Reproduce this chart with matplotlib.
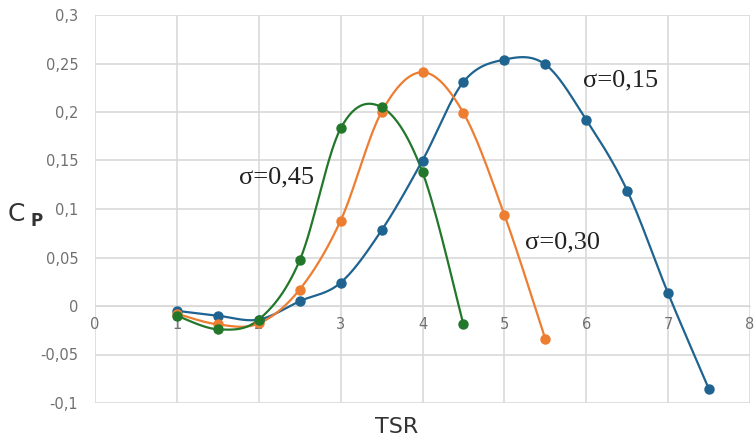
import numpy as np
import matplotlib
matplotlib.use('Agg')
import matplotlib.pyplot as plt
import matplotlib.ticker as ticker

# TSR values and Cp for each solidity
tsr_015 = [1, 1.5, 2, 2.5, 3, 3.5, 4, 4.5, 5, 5.5, 6, 6.5, 7, 7.5]
cp_015 = [-0.005, -0.010, -0.014, 0.005, 0.024, 0.078, 0.150, 0.231, 0.254, 0.249, 0.192, 0.119, 0.013, -0.086]

tsr_030 = [1, 1.5, 2, 2.5, 3, 3.5, 4, 4.5, 5, 5.5]
cp_030 = [-0.008, -0.019, -0.018, 0.017, 0.088, 0.200, 0.241, 0.199, 0.094, -0.034]

tsr_045 = [1, 1.5, 2, 2.5, 3, 3.5, 4, 4.5]
cp_045 = [-0.010, -0.024, -0.014, 0.047, 0.183, 0.205, 0.138, -0.019]

labels = ['σ=0,15', 'σ=0,30', 'σ=0,45']
colors = ['#1f6391', '#ed7d31', '#23772b']


def smooth(x, y, n=30):
    # Catmull-Rom style bezier smoothing, like spreadsheet "smoothed line"
    p = np.column_stack([x, y]).astype(float)
    p = np.vstack([p[0], p, p[-1]])
    out = []
    t = np.linspace(0, 1, n)[:, None]
    for i in range(1, len(p) - 2):
        p0, p1, p2, p3 = p[i - 1], p[i], p[i + 1], p[i + 2]
        b1 = p1 + (p2 - p0) / 6
        b2 = p2 - (p3 - p1) / 6
        seg = ((1 - t) ** 3) * p1 + 3 * ((1 - t) ** 2) * t * b1 + 3 * (1 - t) * t ** 2 * b2 + t ** 3 * p2
        out.append(seg)
    out = np.vstack(out)
    return out[:, 0], out[:, 1]


fig = plt.figure(figsize=(7.55, 4.42), dpi=100)
ax = fig.add_axes([95 / 755, 39 / 442, 655 / 755, 388 / 442])

for (xs, ys), c in zip([(tsr_015, cp_015), (tsr_030, cp_030), (tsr_045, cp_045)], colors):
    sx, sy = smooth(xs, ys)
    ax.plot(sx, sy, color=c, lw=1.6, zorder=3)
    ax.plot(xs, ys, 'o', color=c, ms=6.5, zorder=4)

ax.set_xlim(0, 8)
ax.set_ylim(-0.1, 0.3)
ax.xaxis.set_major_locator(ticker.MultipleLocator(1))
ax.yaxis.set_major_locator(ticker.MultipleLocator(0.05))
ax.yaxis.set_major_formatter(ticker.FuncFormatter(lambda v, pos: f'{v:g}'.replace('.', ',')))
ax.grid(True, color='#d9d9d9', lw=1.2, zorder=0)
ax.set_axisbelow(True)

for s in ['top', 'right', 'left']:
    ax.spines[s].set_visible(False)
ax.spines['bottom'].set_position(('data', 0))
ax.spines['bottom'].set_color('#d9d9d9')
ax.tick_params(axis='x', length=0, pad=8, labelsize=10.5, labelcolor='#707070')
ax.tick_params(axis='y', length=0, pad=12, labelsize=10.5, labelcolor='#707070')

# sigma annotations
serif = dict(family='Liberation Serif', fontsize=19, color='#222222', va='center', ha='center')
ax.text(6.416, 0.233, labels[0], **serif)
ax.text(5.708, 0.065, labels[1], **serif)
ax.text(2.216, 0.133, labels[2], **serif)

# axis titles
fig.text(8 / 755, 1 - 214 / 442, 'C', fontsize=18, color='#333333', va='center', ha='left')
fig.text(31 / 755, 1 - 221 / 442, 'P', fontsize=12, color='#333333', va='center', ha='left', fontweight='bold')
fig.text(397 / 755, 1 - 427 / 442, 'TSR', fontsize=16, color='#333333', va='center', ha='center')

fig.savefig('out.png', dpi=100)
